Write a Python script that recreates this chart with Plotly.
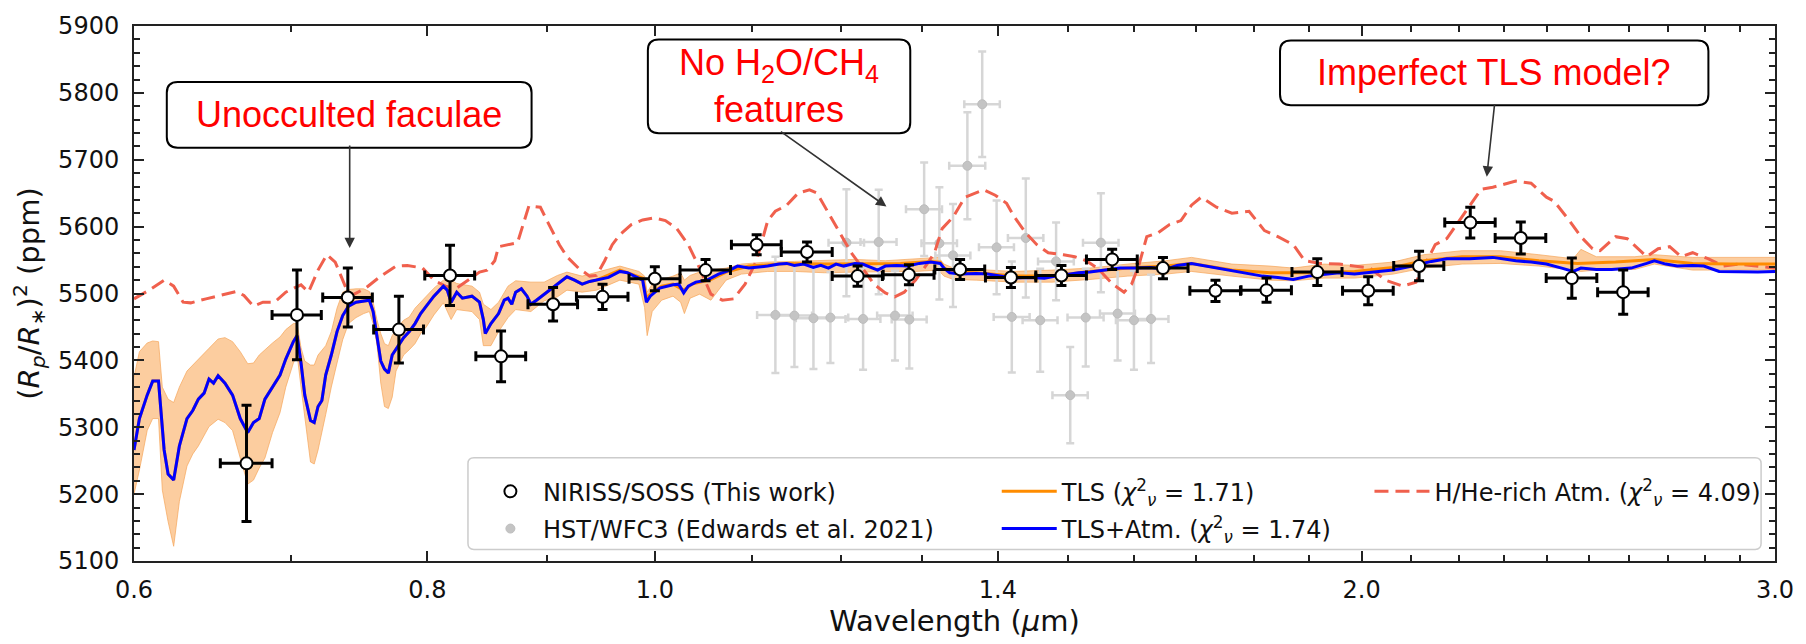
import plotly.graph_objects as go

# ---------------- data ----------------
niriss_wl = [0.670, 0.704, 0.740, 0.778, 0.818, 0.860, 0.905, 0.950, 1.000, 1.051,
             1.105, 1.161, 1.220, 1.283, 1.349, 1.418, 1.490, 1.566, 1.646, 1.733,
             1.822, 1.915, 2.013, 2.116, 2.225, 2.338, 2.458, 2.585]
niriss_wl_err = [0.017, 0.017, 0.018, 0.019, 0.020, 0.021, 0.022, 0.024, 0.025, 0.026,
                 0.027, 0.029, 0.030, 0.032, 0.033, 0.035, 0.037, 0.039, 0.041, 0.043,
                 0.045, 0.047, 0.050, 0.052, 0.055, 0.058, 0.061, 0.064]
niriss_depth = [5246, 5468, 5494, 5446, 5527, 5406, 5484, 5495, 5522, 5535,
                5573, 5562, 5526, 5528, 5536, 5524, 5527, 5551, 5538, 5504,
                5505, 5532, 5504, 5541, 5606, 5583, 5523, 5502]
niriss_depth_err = [87, 67, 44, 50, 45, 38, 25, 19, 18, 16,
                    15, 15, 15, 15, 15, 15, 15, 15, 16, 16,
                    18, 20, 21, 22, 23, 24, 30, 33]

hst_wl = [1.1255, 1.1467, 1.1683, 1.1879, 1.2067, 1.2266, 1.2455, 1.2656, 1.2835, 1.3023,
          1.3219, 1.3397, 1.3587, 1.3786, 1.3982, 1.4192, 1.4388, 1.4593, 1.4822, 1.5029,
          1.5259, 1.5488, 1.5744, 1.5998, 1.6269]
hst_wl_err = [0.020, 0.020, 0.020, 0.021, 0.021, 0.021, 0.022, 0.022, 0.022, 0.023,
              0.023, 0.023, 0.024, 0.024, 0.024, 0.025, 0.025, 0.025, 0.026, 0.026,
              0.027, 0.027, 0.027, 0.028, 0.028]
hst_depth = [5468, 5467, 5463, 5464, 5576, 5462, 5577, 5467, 5461, 5626,
             5575, 5557, 5691, 5783, 5569, 5465, 5583, 5460, 5548, 5348,
             5464, 5576, 5470, 5460, 5462]
hst_depth_err = [87, 77, 76, 68, 80, 76, 78, 67, 73, 70,
                 84, 77, 80, 79, 70, 83, 89, 77, 58, 72,
                 73, 74, 70, 74, 66]

# TLS uncertainty band
band_wl = [0.600, 0.6032, 0.6078, 0.6111, 0.6146, 0.6169, 0.6204, 0.6238, 0.6273, 0.6320,
           0.6356, 0.6391, 0.6458, 0.6516, 0.6560, 0.6609, 0.6659, 0.6708, 0.6746, 0.6784,
           0.6822, 0.6873, 0.6924, 0.6963, 0.7015, 0.7041, 0.7068, 0.7094, 0.7134, 0.7160,
           0.7187, 0.7241, 0.7281, 0.7322, 0.7363, 0.7405, 0.7460, 0.7516, 0.7558, 0.7586,
           0.7614, 0.7643, 0.7671, 0.7700, 0.7729, 0.7758, 0.7816, 0.7860, 0.7904, 0.7948,
           0.7992, 0.8052, 0.8127, 0.8189, 0.8234, 0.8358, 0.8420, 0.8452, 0.8515, 0.8579,
           0.8659, 0.8724, 0.8855, 0.8971, 0.9089, 0.9174, 0.9312, 0.9444,
           0.9663, 0.9845, 0.9900, 0.9925, 0.9974, 1.0067, 1.0180, 1.0256, 1.0294, 1.0352,
           1.0449, 1.0565, 1.0724, 1.0885, 1.1171, 1.1465, 1.1812, 1.2169, 1.2536, 1.2914,
           1.3205, 1.3279, 1.3403, 1.3706, 1.4224, 1.4763, 1.5322, 1.5902, 1.6505, 1.6927,
           1.7611, 1.8286, 1.8703, 1.9275, 1.9863, 2.0626, 2.1256, 2.2072, 2.2919, 2.3798,
           2.4613, 2.4800, 2.5177, 2.6145, 2.6651, 2.7672, 2.8724, 3.000]
band_hi = [5375, 5413, 5426, 5429, 5428, 5360, 5342, 5337, 5360, 5384,
           5393, 5402, 5418, 5432, 5434, 5428, 5413, 5395, 5396, 5408,
           5416, 5426, 5435, 5446, 5455, 5455, 5419, 5399, 5393, 5393,
           5408, 5422, 5443, 5478, 5502, 5506, 5507, 5507, 5503, 5487,
           5461, 5440, 5425, 5422, 5437, 5446, 5460, 5465, 5478, 5487,
           5495, 5508, 5520, 5520, 5515, 5511, 5502, 5484, 5476, 5487,
           5511, 5519, 5517, 5517, 5527, 5532, 5526, 5532,
           5541, 5533, 5526, 5502, 5514, 5521, 5526, 5531, 5520, 5527,
           5532, 5535, 5538, 5544, 5547, 5548, 5549, 5551, 5549, 5552,
           5554, 5544, 5538, 5536, 5533, 5535, 5538, 5544, 5549, 5554,
           5544, 5541, 5538, 5544, 5542, 5547, 5558, 5564, 5564, 5558,
           5552, 5566, 5555, 5555, 5558, 5554, 5554, 5554]
band_lo = [5200, 5236, 5295, 5313, 5313, 5206, 5159, 5122, 5189, 5242,
           5260, 5272, 5301, 5312, 5307, 5295, 5254, 5215, 5221, 5239,
           5254, 5292, 5322, 5360, 5396, 5408, 5360, 5313, 5248, 5245,
           5266, 5319, 5360, 5396, 5431, 5455, 5464, 5470, 5473, 5455,
           5425, 5366, 5331, 5328, 5345, 5384, 5408, 5416, 5425, 5440,
           5450, 5468, 5486, 5461, 5476, 5473, 5461, 5422, 5422, 5443,
           5464, 5476, 5473, 5489, 5495, 5505, 5502, 5505,
           5520, 5514, 5479, 5437, 5473, 5490, 5496, 5487, 5470, 5493,
           5499, 5490, 5520, 5529, 5533, 5533, 5531, 5532, 5533, 5533,
           5535, 5526, 5521, 5520, 5517, 5517, 5521, 5526, 5529, 5533,
           5526, 5520, 5519, 5523, 5523, 5529, 5538, 5544, 5545, 5541,
           5535, 5533, 5535, 5536, 5544, 5535, 5535, 5535]

# TLS + atmosphere model (blue)
atm_wl = [0.600, 0.6032, 0.6078, 0.6111, 0.6146, 0.6180, 0.6204, 0.6238, 0.6273, 0.6320,
          0.6356, 0.6391, 0.6427, 0.6458, 0.6487, 0.6516, 0.6560, 0.6609, 0.6659, 0.6708,
          0.6746, 0.6784, 0.6822, 0.6873, 0.6924, 0.6963, 0.7015, 0.7041, 0.7068, 0.7094,
          0.7134, 0.7160, 0.7187, 0.7214, 0.7241, 0.7281, 0.7322, 0.7363, 0.7405, 0.7460,
          0.7516, 0.7558, 0.7586, 0.7614, 0.7643, 0.7671, 0.7700, 0.7729, 0.7758, 0.7786,
          0.7816, 0.7860, 0.7904, 0.7948, 0.7992, 0.8052, 0.8127, 0.8158, 0.8189, 0.8234,
          0.8280, 0.8358, 0.8420, 0.8452, 0.8468, 0.8515, 0.8579, 0.8627, 0.8659, 0.8691,
          0.8724, 0.8773, 0.8822, 0.8855, 0.8904, 0.8971, 0.9021, 0.9089, 0.9174, 0.9243,
          0.9312, 0.9381, 0.9444,
          0.9556, 0.9663, 0.9735, 0.9826, 0.9881, 0.9918, 0.9955, 1.0048, 1.0123, 1.0180,
          1.0237, 1.0287, 1.0333, 1.0410, 1.0526, 1.0644, 1.0764, 1.0844, 1.0966, 1.1048,
          1.1171, 1.1296, 1.1381, 1.1465, 1.1573, 1.1681, 1.1768, 1.1856, 1.1945, 1.2034,
          1.2169, 1.2259, 1.2351, 1.2443, 1.2536, 1.2676, 1.2818, 1.2962, 1.3108, 1.3230,
          1.3279, 1.3354, 1.3503, 1.3706, 1.3859, 1.4015, 1.4224, 1.4437, 1.4654, 1.4818,
          1.4984, 1.5152, 1.5322, 1.5557, 1.5784, 1.6021, 1.6262, 1.6505, 1.6690, 1.6927,
          1.7347, 1.7744, 1.8149, 1.8424, 1.8703, 1.8987, 1.9275, 1.9567, 1.9863, 2.0242,
          2.0626, 2.1019, 2.1418, 2.1743, 2.2239, 2.2746, 2.3266, 2.3617, 2.3975, 2.4338,
          2.4613, 2.4800, 2.5177, 2.5562, 2.6052, 2.6452, 2.6651, 2.6954, 2.7260, 2.7672,
          2.7978, 2.8401, 2.8949, 2.9499, 3.000]
atm_depth = [5266, 5313, 5348, 5369, 5369, 5266, 5230, 5221, 5272, 5313,
             5325, 5342, 5351, 5372, 5366, 5377, 5366, 5348, 5313, 5292,
             5307, 5313, 5342, 5360, 5378, 5402, 5428, 5437, 5396, 5348,
             5310, 5307, 5331, 5340, 5378, 5408, 5443, 5467, 5481, 5487,
             5489, 5490, 5473, 5437, 5399, 5387, 5381, 5408, 5416, 5425,
             5434, 5443, 5455, 5470, 5481, 5496, 5511, 5505, 5487, 5502,
             5493, 5496, 5487, 5461, 5440, 5455, 5470, 5490, 5493, 5484,
             5502, 5507, 5496, 5484, 5490, 5499, 5505, 5514, 5525, 5520,
             5514, 5518, 5520,
             5524, 5533, 5531, 5524, 5520, 5487, 5496, 5508, 5511, 5513,
             5514, 5501, 5511, 5517, 5520, 5529, 5535, 5541, 5538, 5539,
             5541, 5544, 5545, 5542, 5544, 5539, 5542, 5538, 5544, 5541,
             5545, 5544, 5539, 5535, 5541, 5542, 5541, 5545, 5547, 5545,
             5538, 5531, 5529, 5530, 5529, 5526, 5523, 5524, 5523, 5526,
             5529, 5531, 5532, 5535, 5538, 5538, 5539, 5536, 5542, 5545,
             5538, 5532, 5526, 5524, 5521, 5526, 5528, 5531, 5529, 5532,
             5535, 5541, 5548, 5552, 5552, 5554, 5549, 5547, 5544, 5538,
             5533, 5538, 5536, 5536, 5538, 5545, 5549, 5544, 5541, 5542,
             5541, 5533, 5532, 5532, 5533]

# TLS-only model (orange); below 0.95 um it coincides with the blue curve
tls_wl_red = [0.9663, 0.9881, 0.9918, 0.9955, 1.0067, 1.0180, 1.0287, 1.0371, 1.0565, 1.0724,
              1.0966, 1.1381, 1.1812, 1.2259, 1.2726, 1.3108, 1.3230, 1.3279, 1.3403, 1.3706,
              1.4224, 1.4763, 1.5322, 1.5902, 1.6505, 1.6927,
              1.7611, 1.8286, 1.8987, 1.9863, 2.0626, 2.1256, 2.2072, 2.2919, 2.3798, 2.4710,
              2.5659, 2.6651, 2.7672, 2.8724, 3.000]
tls_depth_red = [5535, 5523, 5493, 5499, 5511, 5514, 5505, 5514, 5521, 5532,
                 5541, 5545, 5544, 5545, 5545, 5548, 5547, 5538, 5532, 5531,
                 5526, 5526, 5533, 5538, 5541, 5545,
                 5535, 5531, 5531, 5533, 5539, 5549, 5555, 5555, 5549, 5545,
                 5547, 5551, 5545, 5544, 5544]
N_SHARED = 83
tls_wl = atm_wl[:N_SHARED] + tls_wl_red
tls_depth = atm_depth[:N_SHARED] + tls_depth_red

# H/He-rich atmosphere (red dashed)
hhe_wl = [0.600, 0.6089, 0.6180, 0.6238, 0.6296, 0.6343, 0.6439, 0.6535, 0.6634, 0.6683,
          0.6746, 0.6809, 0.6886, 0.6963, 0.7068, 0.7120, 0.7187, 0.7249, 0.7309, 0.7363,
          0.7405, 0.7446, 0.7530, 0.7643, 0.7758, 0.7845, 0.7963, 0.8052, 0.8143, 0.8234,
          0.8327, 0.8420, 0.8483, 0.8547, 0.8579, 0.8675, 0.8740, 0.8838, 0.8938, 0.9005,
          0.9106, 0.9174, 0.9278, 0.9381, 0.9444,
          0.9520, 0.9591, 0.9663, 0.9772, 0.9881, 0.9992, 1.0104, 1.0218, 1.0333, 1.0449,
          1.0565, 1.0684, 1.0804, 1.0925, 1.1048, 1.1171, 1.1254, 1.1381, 1.1508, 1.1638,
          1.1725, 1.1856, 1.1989, 1.2124, 1.2259, 1.2397, 1.2536, 1.2653, 1.2771, 1.2914,
          1.3059, 1.3156, 1.3255, 1.3403, 1.3554, 1.3706, 1.3808, 1.3963, 1.4119, 1.4224,
          1.4384, 1.4545, 1.4708, 1.4929, 1.5096, 1.5265, 1.5437, 1.5668, 1.5843, 1.5962,
          1.6081, 1.6201, 1.6383, 1.6566, 1.6752, 1.6927,
          1.7088, 1.7347, 1.7611, 1.7911, 1.8183, 1.8424, 1.8703, 1.8915, 1.9203, 1.9567,
          1.9863, 2.0165, 2.0472, 2.0821, 2.1096, 2.1498, 2.1743, 2.2072, 2.2491, 2.2746,
          2.3266, 2.3617, 2.3975, 2.4155, 2.4521, 2.4800, 2.5083, 2.5272, 2.5659, 2.5954,
          2.6452, 2.6751, 2.7055, 2.7361, 2.7672, 2.8091, 2.8516, 2.8949, 2.9388, 3.000]
hhe_depth = [5492, 5505, 5520, 5511, 5487, 5486, 5492, 5497, 5503, 5497,
             5481, 5487, 5487, 5502, 5513, 5502, 5535, 5558, 5547, 5520,
             5499, 5499, 5508, 5526, 5541, 5542, 5538, 5520, 5511, 5508,
             5520, 5532, 5535, 5549, 5570, 5574, 5576, 5631, 5629, 5606,
             5573, 5555, 5538, 5526, 5527,
             5549, 5573, 5588, 5603, 5610, 5613, 5609, 5597, 5573, 5538,
             5499, 5490, 5492, 5514, 5549, 5609, 5623, 5632, 5650, 5655,
             5650, 5620, 5591, 5561, 5538, 5514, 5501, 5495, 5502, 5520,
             5544, 5561, 5597, 5615, 5644, 5650, 5655, 5647, 5635, 5615,
             5591, 5573, 5561, 5558, 5555, 5549, 5538, 5514, 5502, 5514,
             5544, 5585, 5591, 5603, 5609, 5632,
             5644, 5629, 5620, 5623, 5594, 5585, 5573, 5549, 5545, 5544,
             5541, 5538, 5520, 5511, 5517, 5573, 5582, 5615, 5656, 5659,
             5668, 5665, 5644, 5638, 5609, 5585, 5567, 5564, 5585, 5582,
             5555, 5567, 5570, 5555, 5561, 5552, 5541, 5544, 5541, 5538]

x_tick_vals = [0.6, 0.8, 1.0, 1.4, 2.0, 3.0]
x_tick_text = ["0.6", "0.8", "1.0", "1.4", "2.0", "3.0"]
x_minor_vals = [0.7, 0.9, 1.1, 1.2, 1.3, 1.5, 1.6, 1.7, 1.8, 1.9,
                2.1, 2.2, 2.3, 2.4, 2.5, 2.6, 2.7, 2.8, 2.9]
y_range = [5100, 5900]

legend_labels = {
    "niriss": "NIRISS/SOSS (This work)",
    "hst": "HST/WFC3 (Edwards et al. 2021)",
    "tls": "TLS (<i>χ</i><sup>2</sup><sub><i>ν</i></sub> = 1.71)",
    "atm": "TLS+Atm. (<i>χ</i><sup>2</sup><sub><i>ν</i></sub> = 1.74)",
    "hhe": "H/He-rich Atm. (<i>χ</i><sup>2</sup><sub><i>ν</i></sub> = 4.09)",
}

# ---------------- figure ----------------
W, H = 1806, 644
ML, MR, MT, MB = 134, 21, 20, 70
PW, PH = W - ML - MR, H - MT - MB
FONT = "DejaVu Sans"
BOXFONT = "Liberation Sans, Arial"

fig = go.Figure()

fig.add_trace(go.Scatter(x=band_wl, y=band_lo, mode="lines",
                         line=dict(color="rgba(245,165,90,0.7)", width=1),
                         showlegend=False, hoverinfo="skip"))
fig.add_trace(go.Scatter(x=band_wl, y=band_hi, mode="lines", fill="tonexty",
                         fillcolor="rgba(250,175,100,0.62)",
                         line=dict(color="rgba(245,165,90,0.7)", width=1),
                         showlegend=False, hoverinfo="skip"))

fig.add_trace(go.Scatter(
    x=hst_wl, y=hst_depth, mode="markers", name=legend_labels["hst"],
    marker=dict(size=9, color="#c4c4c4", line=dict(color="#bdbdbd", width=1)),
    error_y=dict(type="data", array=hst_depth_err, color="#d6d6d6", thickness=2.5, width=4),
    error_x=dict(type="data", array=hst_wl_err, color="#d6d6d6", thickness=2.5, width=4),
    legend="legend", legendrank=2, legendgroup="g2"))

fig.add_trace(go.Scatter(x=hhe_wl, y=hhe_depth, mode="lines", name=legend_labels["hhe"],
                         line=dict(color="#f0604d", width=3, dash="14px,7px"),
                         legend="legend3", legendgroup="g5"))
fig.add_trace(go.Scatter(x=tls_wl, y=tls_depth, mode="lines", name=legend_labels["tls"],
                         line=dict(color="#ff8c00", width=3),
                         legend="legend2", legendrank=1, legendgroup="g3"))
fig.add_trace(go.Scatter(x=atm_wl, y=atm_depth, mode="lines", name=legend_labels["atm"],
                         line=dict(color="#0000ff", width=3),
                         legend="legend2", legendrank=2, legendgroup="g4"))

fig.add_trace(go.Scatter(
    x=niriss_wl, y=niriss_depth, mode="markers", name=legend_labels["niriss"],
    marker=dict(size=12, color="white", line=dict(color="black", width=2)),
    error_y=dict(type="data", array=niriss_depth_err, color="black", thickness=3, width=5),
    error_x=dict(type="data", array=niriss_wl_err, color="black", thickness=3, width=5),
    legend="legend", legendrank=1, legendgroup="g1"))


def px_to_paper(px, py):
    return (px - ML) / PW, (H - MB - py) / PH


def rounded_path(x0p, y0p, x1p, y1p, r=10):
    # pixel corners -> paper rounded rectangle
    xa, ya = px_to_paper(x0p, y1p)   # bottom-left
    xb, yb = px_to_paper(x1p, y0p)   # top-right
    rx, ry = r / PW, r / PH
    return (f"M{xa+rx},{ya} L{xb-rx},{ya} Q{xb},{ya} {xb},{ya+ry} "
            f"L{xb},{yb-ry} Q{xb},{yb} {xb-rx},{yb} L{xa+rx},{yb} "
            f"Q{xa},{yb} {xa},{yb-ry} L{xa},{ya+ry} Q{xa},{ya} {xa+rx},{ya} Z")


shapes = []
# legend frame
shapes.append(dict(type="path", xref="paper", yref="paper", path=rounded_path(470, 467, 1771, 562, 6),
                   line=dict(color="#cccccc", width=1.5), fillcolor="rgba(255,255,255,0.8)", layer="above"))

boxes = [
    ((167, 78, 534, 146), "Unocculted faculae"),
    ((651, 34, 915, 131), "No H<sub>2</sub>O/CH<sub>4</sub><br>features"),
    ((1287, 35, 1718, 102), "Imperfect TLS model?"),
]
annotations = []
for (x0, y0, x1, y1), txt in boxes:
    shapes.append(dict(type="path", xref="paper", yref="paper", path=rounded_path(x0, y0, x1, y1, 11),
                       line=dict(color="black", width=2), fillcolor="white", layer="above"))
    cx, cy = px_to_paper((x0 + x1) / 2, (y0 + y1) / 2)
    annotations.append(dict(xref="paper", yref="paper", x=cx, y=cy, text=txt, showarrow=False,
                            xanchor="center", yanchor="middle",
                            font=dict(family=BOXFONT, size=36, color="#ff0000")))

arrows = [((351, 146), (351, 250)), ((784, 131), (891, 207)), ((1503, 102), (1495, 176))]
for (tx, ty), (hx, hy) in arrows:
    px, py = px_to_paper(hx, hy)
    annotations.append(dict(xref="paper", yref="paper", x=px, y=py, ax=tx - hx, ay=ty - hy,
                            axref="pixel", ayref="pixel", text="", showarrow=True,
                            arrowhead=2, arrowsize=1.3, arrowwidth=1.6, arrowcolor="#333333",
                            standoff=0, startstandoff=0))

axis_common = dict(showline=True, linecolor="#222222", linewidth=2, mirror="ticks",
                   ticks="inside", ticklen=10, tickwidth=1.8, tickcolor="#222222",
                   showgrid=False, zeroline=False,
                   tickfont=dict(family=FONT, size=24, color="#111111"))

legend_common = dict(bgcolor="rgba(0,0,0,0)", borderwidth=0, xanchor="left", yanchor="top",
                     font=dict(family=FONT, size=24, color="#111111"), itemwidth=55,
                     tracegroupgap=3, orientation="v")

LEG_TOP = 479
fig.update_layout(
    width=W, height=H, margin=dict(l=ML, r=MR, t=MT, b=MB, pad=0),
    paper_bgcolor="white", plot_bgcolor="white",
    xaxis=dict(type="log", range=[-0.2218487496, 0.4771212547],
               tickmode="array", tickvals=x_tick_vals, ticktext=x_tick_text,
               minor=dict(tickmode="array", tickvals=x_minor_vals, ticks="inside",
                          ticklen=6, tickwidth=1.5, tickcolor="#222222"),
               title=dict(text="Wavelength (<i>μ</i>m)", standoff=8,
                          font=dict(family=FONT, size=29, color="#111111")),
               ticklabelstandoff=6,
               **axis_common),
    yaxis=dict(range=y_range, dtick=100, tick0=5100,
               minor=dict(dtick=20, ticks="inside", ticklen=6, tickwidth=1.5, tickcolor="#222222"),
               title=dict(text="(<i>R<sub>p</sub></i>/<i>R</i><sub>∗</sub>)<sup>2</sup> (ppm)",
                          standoff=10, font=dict(family=FONT, size=29, color="#111111")),
               ticklabelstandoff=8,
               **axis_common),
    legend=dict(x=(480 - ML) / PW, y=(H - MB - LEG_TOP) / PH, **legend_common),
    legend2=dict(x=(1002 - ML) / PW, y=(H - MB - LEG_TOP) / PH, **legend_common),
    legend3=dict(x=(1377 - ML) / PW, y=(H - MB - LEG_TOP) / PH, **legend_common),
    shapes=shapes,
    annotations=annotations,
    hovermode=False,
)

fig.write_html("out.html")
